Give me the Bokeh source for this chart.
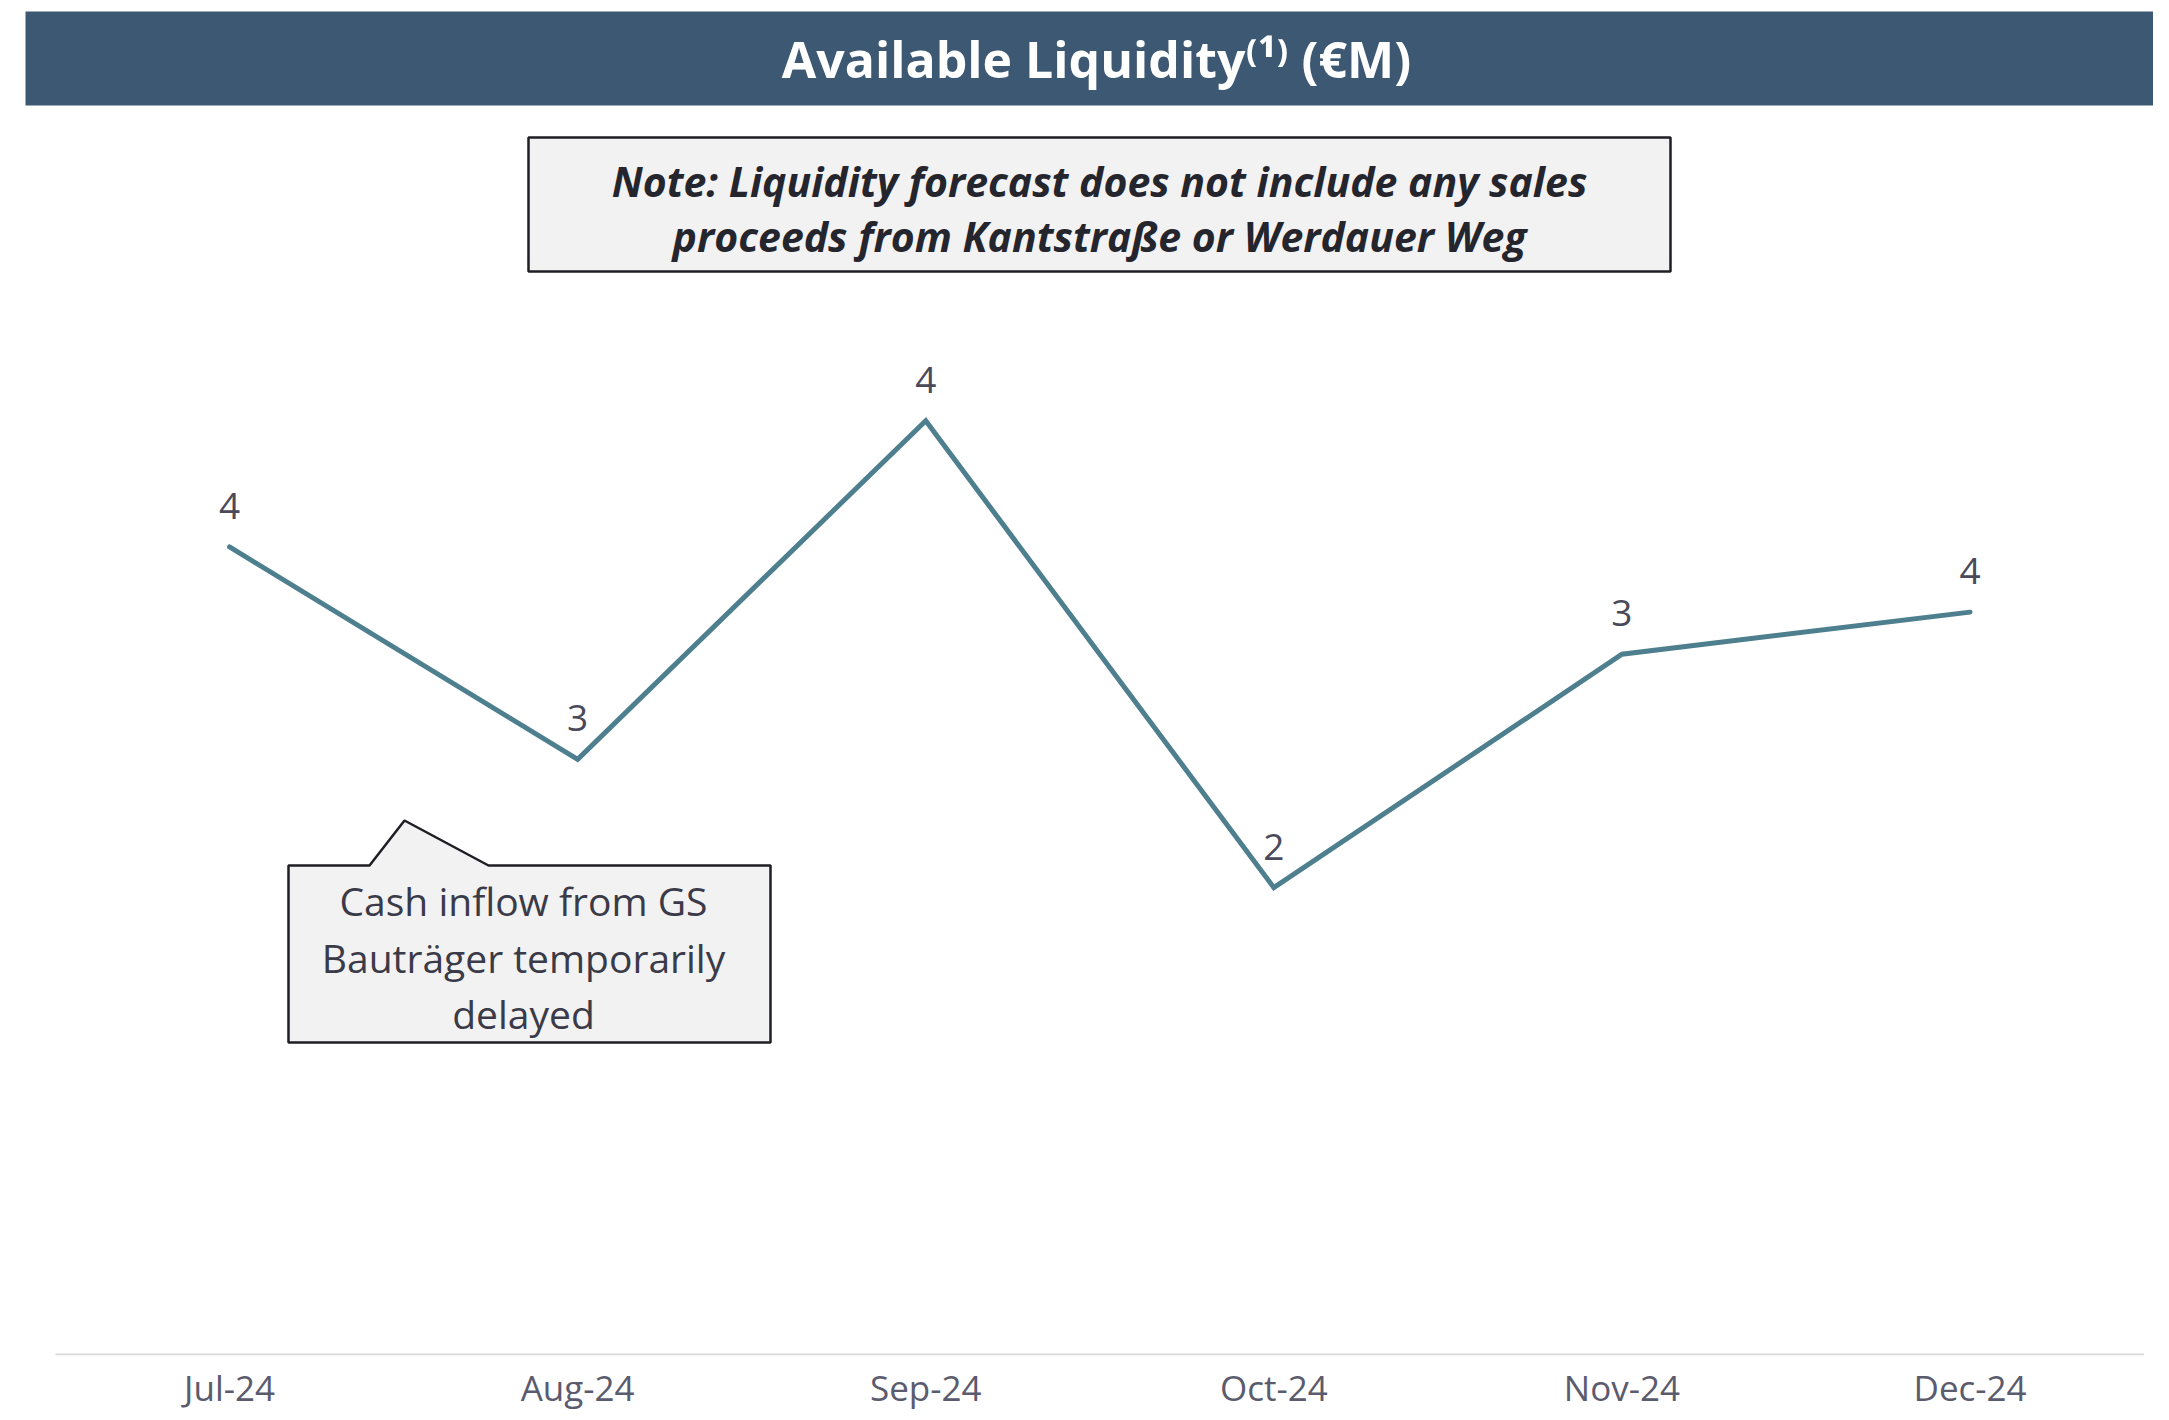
from bokeh.plotting import figure
from bokeh.models import Range1d, FixedTicker, ColumnDataSource
from bokeh.core.properties import value
from bokeh.embed import file_html
from bokeh.resources import INLINE

# ---- data ----
months = ["Jul-24", "Aug-24", "Sep-24", "Oct-24", "Nov-24", "Dec-24"]
liquidity = [3.84, 2.83, 4.44, 2.22, 3.33, 3.53]
value_labels = ["4", "3", "4", "2", "3", "4"]
title_text = "Available Liquidity⁽¹⁾ (€M)"
note_lines = ["Note: Liquidity forecast does not include any sales",
              "proceeds from Kantstraße or Werdauer Weg"]
callout_lines = ["Cash inflow from GS", "Bauträger temporarily", "delayed"]

FONT = "Open Sans"

# ---- layout helpers (canvas pixel -> data) ----
X0_PX, BAND_PX = 55.0, 348.1
Y0_PX, UNIT_PX = 1354.0, 210.3
W, FH = 2153, 1355


def dx(px):
    return (px - X0_PX) / BAND_PX


def dy(py):
    return (Y0_PX - py) / UNIT_PX


xs = [i + 0.5 for i in range(len(months))]

p = figure(frame_width=W, frame_height=FH,
           x_range=Range1d(dx(0), dx(W)),
           y_range=Range1d(dy(FH), dy(0)),
           output_backend="svg", toolbar_location=None,
           min_border_left=0, min_border_right=0, min_border_top=0,
           min_border_bottom=0)
p.background_fill_color = "white"
p.border_fill_color = "white"
p.outline_line_color = None
p.xgrid.visible = False
p.ygrid.visible = False
p.yaxis.visible = False

ax = p.xaxis[0]
ax.ticker = FixedTicker(ticks=xs)
ax.major_label_overrides = {x: m for x, m in zip(xs, months)}
ax.axis_line_color = None
ax.major_tick_line_color = None
ax.minor_tick_line_color = None
ax.major_tick_out = 0
ax.major_tick_in = 0
ax.major_label_text_font = FONT
ax.major_label_text_font_size = "35px"
ax.major_label_text_color = "#5B5B6E"
ax.major_label_standoff = 8

# baseline
p.segment(x0=[0], y0=[0], x1=[len(months)], y1=[0], line_color="#D9D9D9", line_width=2)

# title bar
p.quad(left=[dx(25)], right=[dx(2200)], top=[dy(11)], bottom=[dy(105)],
       fill_color="#3D5873", line_color=None)
p.text(x=[dx(1096)], y=[dy(58)], text=[title_text], text_font=value(FONT),
       text_font_style="bold", text_font_size="50px", text_color="white",
       text_align="center", text_baseline="middle")

# note box
p.quad(left=[dx(528)], right=[dx(1670)], top=[dy(137)], bottom=[dy(271)],
       fill_color="#F2F2F2", line_color="#1E1E24", line_width=2.5)
p.text(x=[dx(1099)] * 2, y=[dy(180), dy(235)], text=note_lines, text_font=value(FONT),
       text_font_style="bold italic", text_font_size="41px", text_color="#25252D",
       text_align="center", text_baseline="middle")

# callout
cx = [288, 369, 404, 488, 770, 770, 288]
cy = [865, 865, 820, 865, 865, 1042, 1042]
p.patch(x=[dx(v) for v in cx], y=[dy(v) for v in cy], fill_color="#F2F2F2",
        line_color="#1E1E24", line_width=2.5)
p.text(x=[dx(523)] * 3, y=[dy(900), dy(957), dy(1013)], text=callout_lines,
       text_font=value(FONT), text_font_size="39px", text_color="#3A3A48",
       text_align="center", text_baseline="middle")

# data line
src = ColumnDataSource(dict(x=xs, y=liquidity, lbl=value_labels))
p.line(x="x", y="y", source=src, line_color="#4E7F8E", line_width=5,
       line_join="miter", line_cap="round")
p.text(x="x", y="y", text="lbl", source=src, y_offset=-41, text_font=value(FONT),
       text_font_size="37px", text_color="#4A4A5A", text_align="center",
       text_baseline="middle")

open("out.html", "w").write(file_html(p, INLINE))
